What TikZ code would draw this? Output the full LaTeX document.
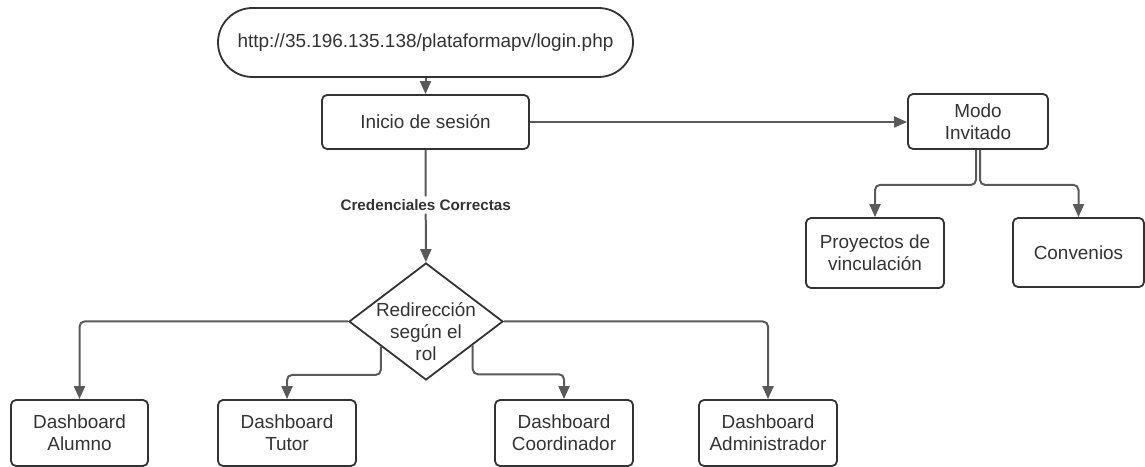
\documentclass[tikz,border=0pt]{standalone}
\usepackage{fontspec}
\setmainfont{Liberation Sans}
\usetikzlibrary{arrows.meta,shapes.geometric,calc}
\definecolor{bordc}{HTML}{333333}
\definecolor{linec}{HTML}{5A5A5A}
\definecolor{txtc}{HTML}{333333}
\begin{document}
\begin{tikzpicture}[x=1bp,y=-1bp,
  box/.style={draw=bordc, line width=1.8bp, rounded corners=5bp, fill=white, text=txtc,
    align=center, font=\fontsize{19}{22}\selectfont, inner sep=0pt},
  conn/.style={draw=linec, line width=2bp, rounded corners=5bp,
    -{Triangle[width=11bp,length=13bp]}},
  credlabel/.style={fill=white, text=txtc, font=\bfseries\fontsize{15.3}{17}\selectfont, inner sep=3bp},
]
\useasboundingbox (0,0) rectangle (1145,467);

\node[box, rounded corners=34.5bp, minimum width=415bp, minimum height=69bp] (url) at (425.5,42.5) {http://35.196.135.138/plataformapv/login.php};
\node[box, minimum width=207bp, minimum height=54bp] (inicio) at (425.5,122) {Inicio de sesión};
\node[box, minimum width=140bp, minimum height=55bp] (modo) at (978,121.5) {Modo\\Invitado};
\node[box, minimum width=138bp, minimum height=70bp] (proy) at (875,253) {Proyectos de\\vinculación};
\node[box, minimum width=131bp, minimum height=69bp] (conv) at (1078.5,252.5) {Convenios};

\node[draw=bordc, line width=1.8bp, diamond, minimum width=154bp, minimum height=117bp,
  inner sep=0pt, fill=white,
  label={[text=txtc, align=center, font=\fontsize{19}{22}\selectfont, yshift=-10bp]center:Redirección\\según el\\rol}] (dia) at (426,321.5) {};

\node[box, minimum width=137bp, minimum height=66bp] (alumno) at (79.5,433) {Dashboard\\Alumno};
\node[box, minimum width=138bp, minimum height=66bp] (tutor) at (287,433) {Dashboard\\Tutor};
\node[box, minimum width=138bp, minimum height=66bp] (coord) at (564,433) {Dashboard\\Coordinador};
\node[box, minimum width=138bp, minimum height=66bp] (admin) at (768,433) {Dashboard\\Administrador};

\draw[conn] (url) -- (inicio);
\draw[conn] (inicio.east) -- (inicio.east -| modo.west);
\draw[conn] (inicio) -- node[credlabel, pos=0.49] {Credenciales Correctas} (dia);

\draw[conn] ([xshift=-2bp]modo.south) -- ++(0,35) -| (proy.north);
\draw[conn] ([xshift=2bp]modo.south) -- ++(0,35) -| (conv.north);

\draw[conn] (dia.west) -| (alumno.north);
\draw[conn] (dia.east) -| (admin.north);
\draw[conn] ($(dia.west)!0.42!(dia.south)$) -- ++(0,28.5) -| (tutor.north);
\draw[conn] ($(dia.east)!0.4!(dia.south)$) -- ++(0,29) -| (coord.north);
\end{tikzpicture}
\end{document}
